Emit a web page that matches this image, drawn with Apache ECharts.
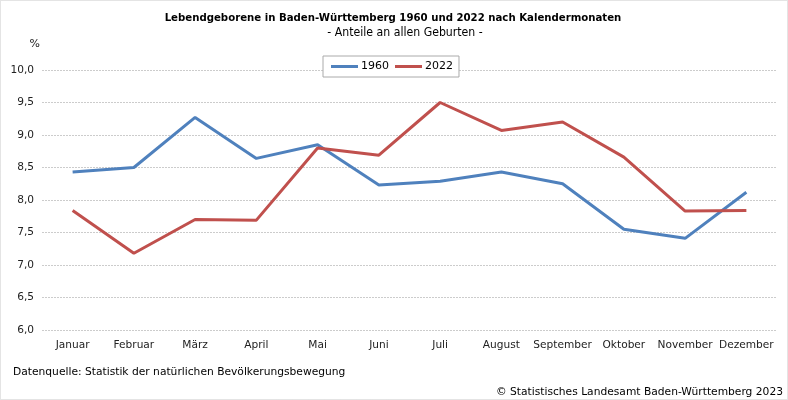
<!DOCTYPE html>
<html><head><meta charset="utf-8">
<script src="https://cdn.jsdelivr.net/npm/echarts@6/dist/echarts.min.js"></script>
<style>html,body{margin:0;padding:0;background:#fff}#c{width:788px;height:400px}</style>
</head><body><div id="c"></div>
<script>
const months = ['Januar','Februar','März','April','Mai','Juni','Juli','August','September','Oktober','November','Dezember'];
const values1960 = [8.43, 8.50, 9.27, 8.64, 8.85, 8.23, 8.29, 8.43, 8.25, 7.55, 7.41, 8.12];
const values2022 = [7.84, 7.18, 7.70, 7.69, 8.80, 8.69, 9.50, 9.07, 9.20, 8.66, 7.83, 7.84];
const seriesNames = ['1960', '2022'];

const chart = echarts.init(document.getElementById('c'), null, {renderer: 'canvas'});
const labelFont = {fontFamily: 'DejaVu Sans', fontSize: 10.6, color: '#222'};
chart.setOption({
  animation: false,
  backgroundColor: '#fff',
  title: [
    {text: 'Lebendgeborene in Baden-Württemberg 1960 und 2022 nach Kalendermonaten', left: 388, textAlign: 'center', top: 8,
     textStyle: {fontFamily: 'DejaVu Sans Condensed', fontWeight: 'bold', fontSize: 11.3, color: '#000'}},
    {text: '- Anteile an allen Geburten -', left: 400, textAlign: 'center', top: 22,
     textStyle: {fontFamily: 'DejaVu Sans Condensed', fontWeight: 'normal', fontSize: 12.2, color: '#000'}}
  ],
  legend: {
    data: seriesNames, left: 323, top: 56, width: 135, height: 22,
    padding: [5, 6, 5, 8], itemGap: 6,
    borderColor: '#aaa', borderWidth: 1, backgroundColor: '#fff',
    itemWidth: 27, itemHeight: 3, icon: 'rect',
    textStyle: {fontFamily: 'DejaVu Sans', fontSize: 11, color: '#000', padding: [0,0,0,-2]}
  },
  grid: {left: 42, right: 11, top: 70, bottom: 70},
  xAxis: {
    type: 'category', data: months, boundaryGap: true,
    axisLine: {show: false}, axisTick: {show: false},
    axisLabel: Object.assign({margin: 10, interval: 0}, labelFont)
  },
  yAxis: {
    type: 'value', min: 6, max: 10, interval: 0.5,
    name: '%', nameLocation: 'end', nameGap: 20,
    nameTextStyle: {fontFamily: 'DejaVu Sans', fontSize: 11, color: '#222', align: 'right', padding: [0, 2, 0, 0]},
    axisLine: {show: false}, axisTick: {show: false},
    axisLabel: Object.assign({margin: 8, formatter: v => v.toFixed(1).replace('.', ',')}, labelFont),
    splitLine: {lineStyle: {color: '#cccccc', type: [2, 1], width: 1}}
  },
  series: [
    {name: seriesNames[0], type: 'line', data: values1960, symbol: 'none',
     lineStyle: {width: 3, color: '#4F81BD'}, itemStyle: {color: '#4F81BD'}},
    {name: seriesNames[1], type: 'line', data: values2022, symbol: 'none',
     lineStyle: {width: 3, color: '#C0504D'}, itemStyle: {color: '#C0504D'}}
  ],
  graphic: [
    {type: 'rect', shape: {x: 0.5, y: 0.5, width: 787, height: 399},
     style: {fill: 'none', stroke: '#c8c8c8', lineWidth: 1, lineDash: [1, 1]}, silent: true},
    {type: 'text', left: 13, top: 367, style: {text: 'Datenquelle: Statistik der natürlichen Bevölkerungsbewegung', fontFamily: 'DejaVu Sans', fontSize: 10.7, fill: '#000'}},
    {type: 'text', right: 5, top: 387, style: {text: '© Statistisches Landesamt Baden-Württemberg 2023', fontFamily: 'DejaVu Sans', fontSize: 10.7, fill: '#000'}}
  ]
});
</script></body></html>
